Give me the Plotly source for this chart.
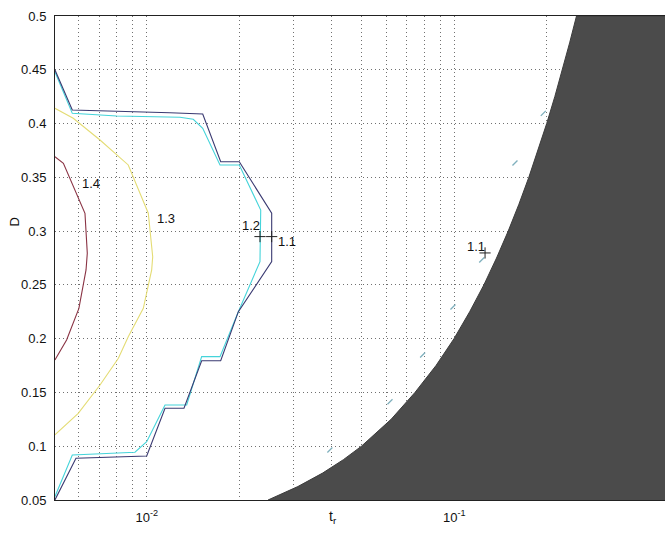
import plotly.graph_objects as go

# ---- contour lines (t_r, D) ----
lvl11_t = [0.00503, 0.00573, 0.0119, 0.01521, 0.0174, 0.0200, 0.02549, 0.02549,
           0.01986, 0.0174, 0.01509, 0.01322, 0.01147, 0.0100, 0.00589, 0.00503]
lvl11_D = [0.450, 0.4126, 0.4101, 0.4089, 0.3645, 0.3645, 0.3166, 0.2716,
           0.2251, 0.1795, 0.1795, 0.1353, 0.1353, 0.0909, 0.0888, 0.050]

lvl12_t = [0.00503, 0.00573, 0.00799, 0.01283, 0.01417, 0.01521, 0.01731, 0.0200,
           0.02348, 0.02335, 0.01986, 0.01731, 0.01509, 0.01349, 0.01147, 0.0100,
           0.00916, 0.00573, 0.00503]
lvl12_D = [0.4482, 0.4095, 0.4070, 0.4058, 0.4040, 0.3956, 0.3615, 0.3615,
           0.3196, 0.2716, 0.2251, 0.1833, 0.1833, 0.1383, 0.1383, 0.1042,
           0.0944, 0.0919, 0.0531]

lvl13_t = [0.00503, 0.00577, 0.00705, 0.00871, 0.01012, 0.01046, 0.01038, 0.00975,
           0.00871, 0.00809, 0.00705, 0.00599, 0.00503]
lvl13_D = [0.4142, 0.4049, 0.3847, 0.3615, 0.3166, 0.2762, 0.2639, 0.2282,
           0.2018, 0.1818, 0.1569, 0.1306, 0.1105]

lvl14_t = [0.00503, 0.00536, 0.0063, 0.00641, 0.00635, 0.00602, 0.00549, 0.00503]
lvl14_D = [0.3692, 0.3630, 0.3166, 0.2794, 0.2639, 0.2282, 0.1988, 0.1802]

# small isolated 1.1/1.2 fragments near the excluded region
frag_t = [0.1947, 0.1575, 0.1228, 0.0990, 0.0789, 0.0618, 0.0394]
frag_D = [0.4095, 0.3633, 0.2732, 0.2295, 0.1848, 0.1414, 0.0965]

# edge of the excluded (shaded) region
edge_D = [0.05, 0.0625, 0.075, 0.0875, 0.1, 0.125, 0.15, 0.175, 0.2, 0.225, 0.25,
          0.275, 0.3, 0.325, 0.35, 0.375, 0.4, 0.425, 0.45, 0.475, 0.5]
edge_t = [0.0248, 0.031, 0.0373, 0.0436, 0.0499, 0.0623, 0.0745, 0.0872, 0.0998,
          0.1122, 0.1248, 0.1372, 0.1497, 0.1622, 0.1747, 0.1872, 0.1997, 0.2122,
          0.2246, 0.2371, 0.2496]

# contour labels
label_text = ["1.4", "1.3", "1.2", "1.1", "1.1"]
label_t = [0.00659, 0.01155, 0.02184, 0.02858, 0.1176]
label_D = [0.3429, 0.3103, 0.3041, 0.2890, 0.2843]
plus_t = [0.02335, 0.02549, 0.1259]
plus_D = [0.2949, 0.2949, 0.2797]

x_grid = [0.006, 0.007, 0.008, 0.009, 0.01, 0.02, 0.03, 0.04, 0.05, 0.06, 0.07,
          0.08, 0.09, 0.1, 0.2, 0.3, 0.4]
x_labels = {0.01: "10<sup>-2</sup>", 0.1: "10<sup>-1</sup>"}
y_ticks = [0.05, 0.1, 0.15, 0.2, 0.25, 0.3, 0.35, 0.4, 0.45, 0.5]
y_labels = ["0.05", "0.1", "0.15", "0.2", "0.25", "0.3", "0.35", "0.4", "0.45", "0.5"]

FONT = "Liberation Sans, Arial, Helvetica, sans-serif"
GRID = dict(showgrid=True, gridcolor="#707070", gridwidth=1, griddash="1px,3px",
            showline=True, linecolor="#222", linewidth=1, mirror=True,
            zeroline=False, ticks="")

fig = go.Figure()

# shaded region to the right of the edge
fig.add_trace(go.Scatter(
    x=edge_t + [3.0, 3.0], y=edge_D + [edge_D[-1], edge_D[0]],
    fill="toself", fillcolor="#4b4b4b", mode="lines",
    line=dict(color="#3c3c3c", width=1), hoverinfo="skip", showlegend=False))

for tx, dy, col in [(lvl14_t, lvl14_D, "#8a3344"),
                    (lvl13_t, lvl13_D, "#e4dc74"),
                    (lvl12_t, lvl12_D, "#45d4da"),
                    (lvl11_t, lvl11_D, "#3a3a72")]:
    fig.add_trace(go.Scatter(x=tx, y=dy, mode="lines",
                             line=dict(color=col, width=1.1),
                             hoverinfo="skip", showlegend=False))

fig.add_trace(go.Scatter(
    x=frag_t, y=frag_D, mode="markers",
    marker=dict(symbol="line-ne", size=5, color="#7fb0bd",
                line=dict(color="#7fb0bd", width=1.3)),
    hoverinfo="skip", showlegend=False))

fig.add_trace(go.Scatter(
    x=plus_t, y=plus_D, mode="markers",
    marker=dict(symbol="cross-thin", size=8, color="#222",
                line=dict(color="#222", width=1)),
    hoverinfo="skip", showlegend=False))

fig.add_trace(go.Scatter(
    x=label_t, y=label_D, mode="text", text=label_text,
    textfont=dict(family=FONT, size=13, color="#111"),
    hoverinfo="skip", showlegend=False))

fig.update_xaxes(
    type="log", range=[-2.2981, -0.315],
    tickmode="array", tickvals=x_grid,
    ticktext=[x_labels.get(v, "") for v in x_grid],
    ticklabelstandoff=5,
    tickfont=dict(family=FONT, size=13, color="#111"), **GRID)

fig.update_yaxes(
    range=[0.05, 0.5], tickmode="array", tickvals=y_ticks, ticktext=y_labels,
    ticklabelstandoff=5,
    tickfont=dict(family=FONT, size=13, color="#111"), **GRID)

fig.add_annotation(text="t<sub>r</sub>", xref="paper", yref="paper",
                   x=(333 - 55) / 610, y=-0.012, xanchor="center", yanchor="top",
                   showarrow=False, font=dict(family=FONT, size=14, color="#111"))
fig.add_annotation(text="D", xref="paper", yref="paper",
                   x=-0.068, y=(500 - 222) / 484, xanchor="center", yanchor="middle",
                   textangle=-90, showarrow=False,
                   font=dict(family=FONT, size=13, color="#111"))

fig.update_layout(
    width=665, height=538,
    margin=dict(l=55, r=0, t=16, b=38),
    paper_bgcolor="white", plot_bgcolor="white",
    showlegend=False)

fig.write_html("out.html")
